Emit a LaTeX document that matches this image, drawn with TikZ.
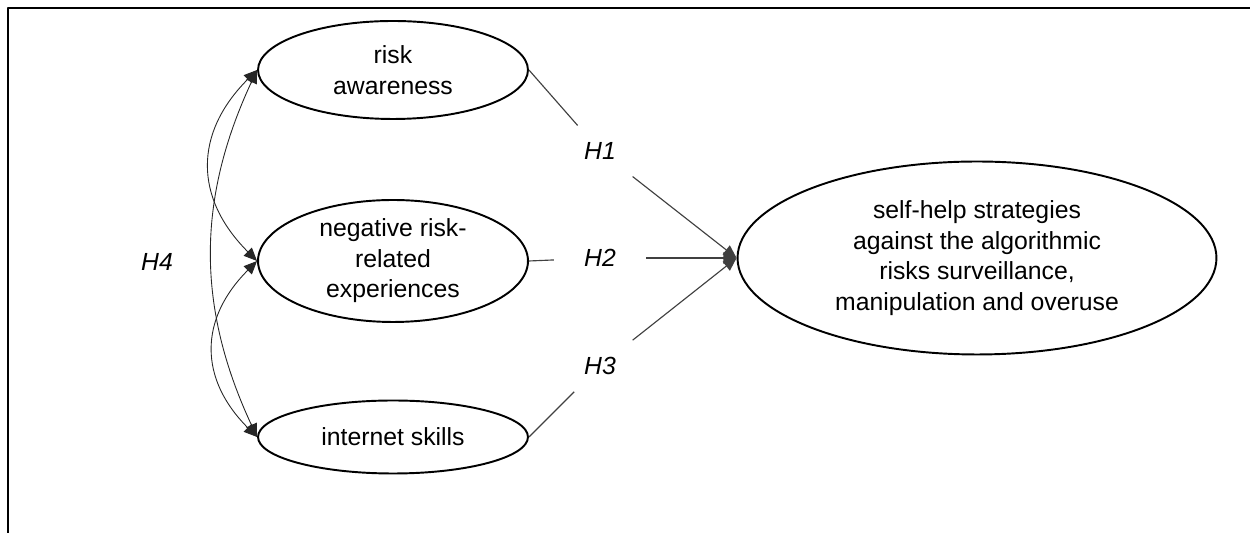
\documentclass[tikz,border=0pt]{standalone}
\usepackage{fontspec}
\setmainfont{Liberation Sans}
\usetikzlibrary{arrows.meta,shapes.geometric}

\tikzset{
  construct/.style={draw, ellipse, line width=1.1pt, inner sep=0pt, align=center,
    font=\fontsize{14.1}{17.4}\selectfont},
  hyplabel/.style={inner xsep=17pt, inner ysep=9.5pt, font=\fontsize{14.1}{17}\selectfont\itshape},
  effect/.style={draw=black!75, line width=0.65pt},
  covar/.style={draw=black!85, line width=0.5pt,
    {Triangle[length=7.5pt,width=6.5pt]}-{Triangle[length=7.5pt,width=6.5pt]}}
}

\begin{document}
\begin{tikzpicture}[x=0.02cm, y=0.02cm, line join=round]
  \useasboundingbox (0,0) rectangle (1250,533);
  % frame
  \draw[line width=1.5pt] (1250,525) -- (8,525) -- (8,0);

  % predictors
  \node[construct, minimum width=5.4cm, minimum height=1.96cm] (aware) at (393,463) {risk\\awareness};
  \node[construct, minimum width=5.4cm, minimum height=2.44cm] (negexp) at (393,272) {negative risk-\\related\\experiences};
  \node[construct, minimum width=5.4cm, minimum height=1.46cm] (skills) at (393,96) {internet skills};

  % outcome
  \node[construct, minimum width=9.58cm, minimum height=3.86cm] (selfhelp) at (977,275)
    {self-help strategies\\against the algorithmic\\risks surveillance,\\manipulation and overuse};

  % hypotheses
  \node[hyplabel] (h1) at (600,382) {H1};
  \node[hyplabel] (h2) at (600,275) {H2};
  \node[hyplabel] (h3) at (600,167) {H3};
  \node[font=\fontsize{14.1}{17}\selectfont\itshape] (h4) at (157,271) {H4};

  \draw[effect] (aware.east) -- (h1);
  \draw[effect, -{Triangle[length=7.5pt,width=6.5pt]}] (h1) -- (selfhelp.west);
  \draw[effect] (negexp.east) -- (h2);
  \draw[effect, -{Triangle[length=7.5pt,width=6.5pt]}] (h2) -- (selfhelp.west);
  \draw[effect] (skills.east) -- (h3);
  \draw[effect, -{Triangle[length=7.5pt,width=6.5pt]}] (h3) -- (selfhelp.west);

  % correlations
  \draw[covar] (aware.west) to[out=225, in=135, looseness=1.2] (negexp.west);
  \draw[covar] (aware.west) to[out=245, in=115] (skills.west);
  \draw[covar] (negexp.west) to[out=225, in=135, looseness=1.2] (skills.west);
\end{tikzpicture}
\end{document}
